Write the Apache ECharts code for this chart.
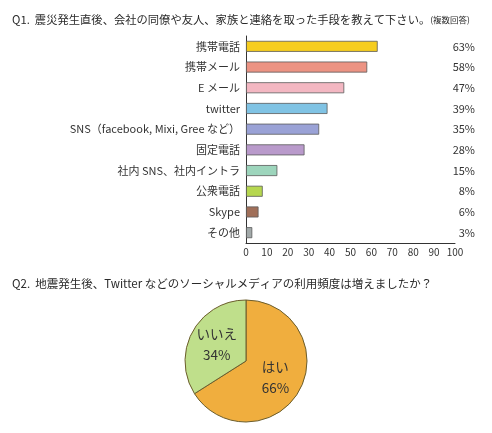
<!DOCTYPE html>
<html>
<head>
<meta charset="utf-8">
<script src="https://cdn.jsdelivr.net/npm/echarts@6/dist/echarts.min.js"></script>
<style>
    html, body { margin: 0; padding: 0; background: #fff; }
    #main { width: 492px; height: 433px; }
</style>
</head>
<body>
<div id="main"></div>
<script>
    // Q1 連絡手段（複数回答）
    var methods = ['携帯電話', '携帯メール', 'E メール', 'twitter', 'SNS（facebook, Mixi, Gree など）',
        '固定電話', '社内 SNS、社内イントラ', '公衆電話', 'Skype', 'その他'];
    var methodPct = [63, 58, 47, 39, 35, 28, 15, 8, 6, 3];
    var barColors = ['#f6cd1f', '#ec9383', '#f3b7c2', '#80c3e4', '#9aa2d6',
        '#b99acb', '#9dd5bc', '#b6d74f', '#a06f59', '#a2a9a9'];
    var xTicks = [0, 10, 20, 30, 40, 50, 60, 70, 80, 90, 100];

    // Q2 利用頻度は増えたか
    var answers = ['はい', 'いいえ'];
    var answerPct = [66, 34];
    var pieColors = ['#f0ae3e', '#bfdf8b'];

    var font = '"Noto Sans CJK JP", sans-serif';
    var chart = echarts.init(document.getElementById('main'));

    var option = {
        animation: false,
        textStyle: { fontFamily: font },
        title: [
            {
                text: '{m|Q1.  震災発生直後、会社の同僚や友人、家族と連絡を取った手段を教えて下さい。}{s|(複数回答)}',
                left: 7, top: 9,
                textStyle: {
                    fontWeight: 'normal',
                    rich: {
                        m: { fontSize: 11.3, color: '#2a2a2a', fontWeight: 'normal', fontFamily: font },
                        s: { fontSize: 8.5, color: '#2a2a2a', fontWeight: 'normal', fontFamily: font }
                    }
                }
            },
            {
                text: 'Q2.  地震発生後、Twitter などのソーシャルメディアの利用頻度は増えましたか？',
                left: 7, top: 273,
                textStyle: { fontSize: 11.5, fontWeight: 'normal', color: '#2a2a2a', fontFamily: font }
            }
        ],
        grid: { left: 246, right: 37, top: 36, bottom: 190, containLabel: false },
        xAxis: {
            type: 'value',
            min: 0, max: 100, interval: 10,
            axisLine: { show: true, lineStyle: { color: '#333', width: 1 } },
            axisTick: { show: false },
            splitLine: { show: false },
            axisLabel: {
                color: '#333', fontSize: 10, margin: 4,
                formatter: function (v) { return xTicks.indexOf(v) >= 0 ? String(v) : ''; }
            }
        },
        yAxis: [
            {
                type: 'category',
                data: methods,
                inverse: true,
                axisLine: { show: true, lineStyle: { color: '#333', width: 1 } },
                axisTick: { show: false },
                axisLabel: { color: '#333', fontSize: 11, margin: 6 }
            },
            {
                type: 'category',
                position: 'right',
                data: methodPct.map(function (v) { return v + '%'; }),
                inverse: true,
                axisLine: { show: false },
                axisTick: { show: false },
                axisLabel: { color: '#333', fontSize: 11, margin: 20, align: 'right' }
            }
        ],
        series: [
            {
                type: 'bar',
                barWidth: 11,
                data: methodPct.map(function (v, i) {
                    return {
                        value: v,
                        itemStyle: { color: barColors[i], borderColor: '#5a5a5a', borderWidth: 0.8 }
                    };
                })
            },
            {
                type: 'pie',
                center: [246, 361],
                radius: 61,
                startAngle: 90,
                clockwise: true,
                silent: true,
                label: {
                    show: true,
                    position: 'inside',
                    color: '#333',
                    fontSize: 13.5,
                    lineHeight: 21,
                    fontFamily: font,
                    formatter: function (p) { return p.name + '\n' + p.value + '%'; }
                },
                labelLine: { show: false },
                itemStyle: { borderColor: '#6b5d2c', borderWidth: 1 },
                data: answers.map(function (n, i) {
                    return { name: n, value: answerPct[i], itemStyle: { color: pieColors[i] } };
                })
            }
        ]
    };
    chart.setOption(option);
</script>
</body>
</html>
